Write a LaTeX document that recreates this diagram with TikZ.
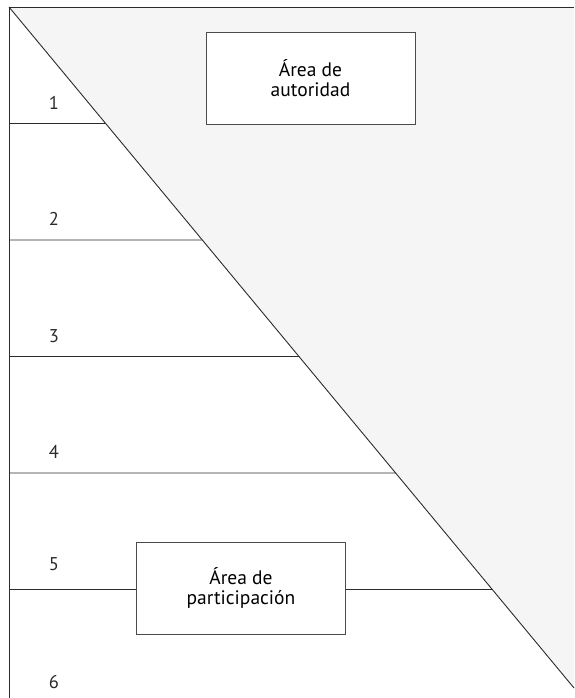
\documentclass[tikz,border=0pt]{standalone}
\usepackage{fontspec}
\setmainfont{PT Sans}
\usepackage{xcolor}
\usetikzlibrary{calc, positioning}
\definecolor{lgray}{HTML}{F5F5F5}
\definecolor{lline}{HTML}{2B2B2B}
\tikzset{
  %area box style
  areabox/.style={
    draw=lline!85
    , fill=white
    , line width=0.9pt
    , anchor=center
    , align=center
    , text centered
    , minimum width={209pt}
    , minimum height={92pt}
    , font=\fontsize{19.5}{19.5}\selectfont
  },
}

\begin{document}
\begin{tikzpicture}[x=1pt,y=-1pt]
  \tikzstyle{rule}=[lline, line width=0.9pt]
  \tikzstyle{lvl}=[font=\fontsize{18.5}{20}\selectfont, text=lline]
  \useasboundingbox (0,0) rectangle (574,698);
  % corners
  \coordinate (tl) at (9,7);
  \coordinate (tr) at (574,7);
  \coordinate (br) at (574,688);
  \coordinate (bl) at (9,698);
  % shaded area
  \fill [lgray] (tl) -- (tr) -- (br) -- cycle;
  \draw [rule] (tl) -- (tr);
  \draw [rule] (tl) -- (bl);
  \draw [rule] (tl) -- (br);
  % level rules
  \foreach \i in {1,...,5}{
    \coordinate (l\i) at (9,{7+116.5*\i});
    \coordinate (d\i) at ($(tl)!{116.5*\i/681}!(br)$);
  }
  \foreach \i in {1,...,4}{
    \draw [rule] (l\i) -- (d\i);
  }
  % level numbers
  \foreach \i/\y in {1/103,2/219,3/336,4/452,5/564,6/682}{
    \node [lvl] (n\i) at (54,\y) {\i};
  }
  % boxes
  \node [areabox] (aut) at (310.5,78) {Área de\\autoridad};
  \node [areabox] (part) at (241,588) {Área de\\participación};
  \draw [rule] (l5) -- (l5 -| part.west);
  \draw [rule] (l5 -| part.east) -- (d5);
\end{tikzpicture}
\end{document}
